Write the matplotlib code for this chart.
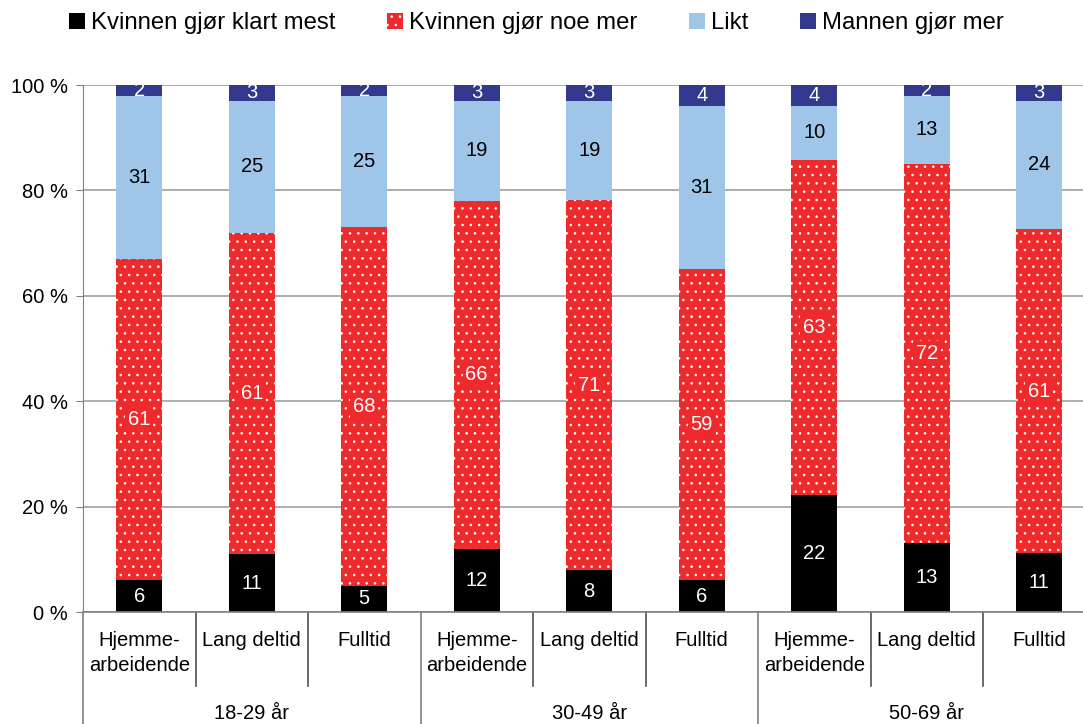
import numpy as np
import matplotlib.pyplot as plt
from matplotlib.patches import Patch
import matplotlib.transforms as mtransforms

plt.rcParams['font.family'] = ['Liberation Sans', 'DejaVu Sans']
plt.rcParams['hatch.linewidth'] = 0.6

# data
kategorier = ["Hjemme-\narbeidende", "Lang deltid", "Fulltid"] * 3
grupper = ["18-29 år", "30-49 år", "50-69 år"]
klart_mest = [6, 11, 5, 12, 8, 6, 22, 13, 11]
noe_mer = [61, 61, 68, 66, 71, 59, 63, 72, 61]
likt = [31, 25, 25, 19, 19, 31, 10, 13, 24]
mannen_mer = [2, 3, 2, 3, 3, 4, 4, 2, 3]

serier = [klart_mest, noe_mer, likt, mannen_mer]
navn = ["Kvinnen gjør klart mest", "Kvinnen gjør noe mer", "Likt", "Mannen gjør mer"]
farger = ["#000000", "#EE2A2D", "#9FC5E8", "#333A8E"]
tekstfarger = ["white", "white", "black", "white"]

data = np.array(serier, dtype=float)
andel = data / data.sum(axis=0) * 100

fig = plt.figure(figsize=(10.83, 7.24), dpi=100)
ax = fig.add_axes([83 / 1083, 112 / 724, 1012.5 / 1083, 527 / 724])

x = np.arange(len(kategorier))
bunn = np.zeros(len(kategorier))
for i in range(4):
    if i == 1:
        ax.bar(x, andel[i], 0.41, bottom=bunn, color=farger[i], edgecolor="white",
               linewidth=0, hatch="..", zorder=2)
    else:
        ax.bar(x, andel[i], 0.41, bottom=bunn, color=farger[i], linewidth=0, zorder=2)
    for j in range(len(x)):
        boks = dict(facecolor=farger[i], edgecolor="none", pad=2) if i == 1 else None
        ax.text(x[j], bunn[j] + andel[i][j] / 2, str(serier[i][j]), ha="center", va="center",
                color=tekstfarger[i], fontsize=14.5, zorder=3, bbox=boks)
    bunn += andel[i]

ax.set_xlim(-0.5, len(x) - 0.5)
ax.set_ylim(0, 100)
ax.set_yticks(range(0, 101, 20))
ax.set_yticklabels([f"{v} %" for v in range(0, 101, 20)], fontsize=14.5)
ax.set_xticks([])
ax.yaxis.grid(True, color="#a0a0a0", linewidth=1.2)
ax.set_axisbelow(True)
ax.tick_params(axis="y", length=5, color="#808080", pad=6)
for s in ["top", "right"]:
    ax.spines[s].set_visible(False)
ax.spines["left"].set_color("#808080")
ax.spines["bottom"].set_color("#808080")
ax.spines["bottom"].set_linewidth(1.2)

trans = mtransforms.blended_transform_factory(ax.transData, ax.transAxes)
for j in range(len(x)):
    ax.text(x[j], -0.037, kategorier[j], transform=trans, ha="center", va="top",
            fontsize=14.5, linespacing=1.4)
for k in range(1, len(x)):
    if k % 3 == 0:
        ax.plot([k - 0.5, k - 0.5], [0, -0.25], transform=trans, color="#808080",
                linewidth=1.2, clip_on=False)
    else:
        ax.plot([k - 0.5, k - 0.5], [0, -0.141], transform=trans, color="#505050",
                linewidth=1.2, clip_on=False)
ax.plot([-0.5, -0.5], [0, -0.25], transform=trans, color="#808080", linewidth=1.2, clip_on=False)
for g in range(3):
    ax.text(g * 3 + 1, -0.193, grupper[g], transform=trans, ha="center", va="center", fontsize=14.5)

handles = [Patch(facecolor=farger[i], edgecolor="white" if i == 1 else farger[i],
                 hatch=".." if i == 1 else None, linewidth=0) for i in range(4)]
fig.legend(handles, navn, loc="center", bbox_to_anchor=(0.4954, 0.968), ncol=4, frameon=False,
           fontsize=17.2, handlelength=0.68, handleheight=0.68, handletextpad=0.25,
           columnspacing=2.15)

fig.savefig("out.png", dpi=100)
